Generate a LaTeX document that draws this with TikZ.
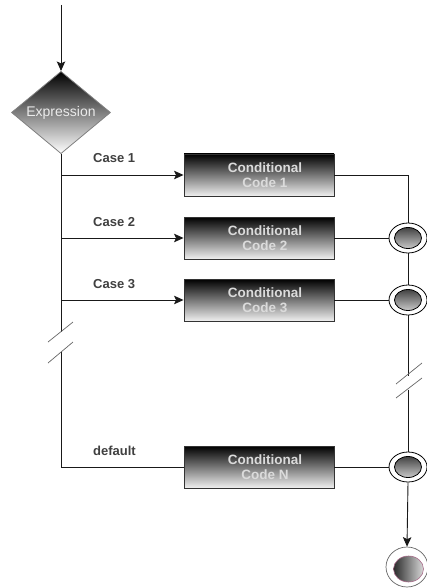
\documentclass[tikz,border=0pt]{standalone}
\usepackage{fontspec}
\setmainfont{Liberation Sans}
\usetikzlibrary{shapes.geometric,arrows.meta}

\begin{document}
\begin{tikzpicture}[x=1pt,y=-1pt,
  flow/.style={line width=0.9pt, draw=black!90},
  tip/.style={-{Stealth[length=9.5pt,width=8.5pt,inset=2pt]}},
  breakmark/.style={line width=0.7pt, draw=black!60},
  caselabel/.style={font=\bfseries\fontsize{13}{15}\selectfont, text=black!75, anchor=base west, inner sep=0pt},
  codetext/.style={font=\bfseries\fontsize{13.5}{15}\selectfont, text=white!86!black, align=center, inner sep=0pt},
  codebox/.style={rectangle, minimum width=150pt, minimum height=42pt, inner sep=0pt,
    draw=black!80, line width=0.9pt, top color=black, bottom color=white!94!black},
  decision/.style={diamond, minimum width=99pt, minimum height=81pt, inner sep=0pt,
    draw=black!50, line width=0.8pt, top color=black, bottom color=white,
    text=white!92!black, font=\fontsize{14}{15}\selectfont},
  junction/.style={ellipse, minimum width=38pt, minimum height=30pt, inner sep=0pt,
    draw=black, fill=white, line width=0.8pt,
    path picture={
      \shade[top color=black!85, bottom color=white!90!black]
        (path picture bounding box.center) ellipse [x radius=13.5pt, y radius=10.5pt];
      \draw[black, line width=0.8pt]
        (path picture bounding box.center) ellipse [x radius=13.5pt, y radius=10.5pt];}},
  finish/.style={ellipse, minimum width=42pt, minimum height=40pt, inner sep=0pt,
    draw=black!60, fill=white, line width=0.7pt,
    path picture={
      \shade[left color=black, right color=white!95!black]
        ([xshift=1.5pt,yshift=-2pt]path picture bounding box.center) ellipse [x radius=15pt, y radius=13pt];
      \draw[color={rgb,255:red,170;green,110;blue,140}, line width=0.6pt]
        ([xshift=1.5pt,yshift=-2pt]path picture bounding box.center) ellipse [x radius=15pt, y radius=13pt];}}
]
\useasboundingbox (0,0) rectangle (427,588);

% decision node
\coordinate (start) at (61,5);
\node[decision] (expr) at (61,112.5) {Expression};

% conditional code blocks
\node[codebox, label={[codetext, xshift=6pt]center:{Conditional\\Code 1}}] (box1) at (259,175) {};
\node[codebox, label={[codetext, xshift=6pt]center:{Conditional\\Code 2}}] (box2) at (259,238) {};
\node[codebox, label={[codetext, xshift=6pt]center:{Conditional\\Code 3}}] (box3) at (259,300) {};
\node[codebox, label={[codetext, xshift=6pt]center:{Conditional\\Code N}}] (boxN) at (259,467) {};

% merge points and end
\node[junction] (j2) at (408,238) {};
\node[junction] (j3) at (408,300) {};
\node[junction] (jN) at (408,467) {};
\node[finish] (done) at (407,567) {};

% points on the left spine
\coordinate (s1) at (61,175);
\coordinate (s2) at (61,238);
\coordinate (s3) at (61,300);
\coordinate (sN) at (61,467);
\coordinate (lb1) at (61,331.6);
\coordinate (lb2) at (61,352);
\coordinate (rb1) at (408,375.5);
\coordinate (rb2) at (408,389.5);

% incoming flow
\draw[flow,tip] (start) -- (expr.north);

% left spine with break
\draw[flow] (expr.south) -- (lb1);
\draw[flow] (lb2) -- (sN);
\draw[breakmark] (48,342) -- (73,322);
\draw[breakmark] (48,363) -- (73,342);

% case branches
\draw[flow,tip] (s1) -- (box1.west);
\draw[flow,tip] (s2) -- (box2.west);
\draw[flow,tip] (s3) -- (box3.west);
\draw[flow] (sN) -- (boxN.west);

\node[caselabel] (l1) at (93,163) {Case 1};
\node[caselabel] (l2) at (93,226) {Case 2};
\node[caselabel] (l3) at (93,288) {Case 3};
\node[caselabel] (lN) at (93,455) {default};

% right side merge
\draw[flow] (box1.east) -| (j2.north);
\draw[flow] (box2.east) -- (j2.west);
\draw[flow] (box3.east) -- (j3.west);
\draw[flow] (boxN.east) -- (jN.west);
\draw[flow] (j2.south) -- (j3.north);
\draw[flow] (j3.south) -- (rb1);
\draw[flow] (rb2) -- (jN.north);
\draw[breakmark] (396,384) -- (422,363);
\draw[breakmark] (396,398) -- (422,378);
\draw[flow,tip] (jN.south) -- (done.north);
\end{tikzpicture}
\end{document}
